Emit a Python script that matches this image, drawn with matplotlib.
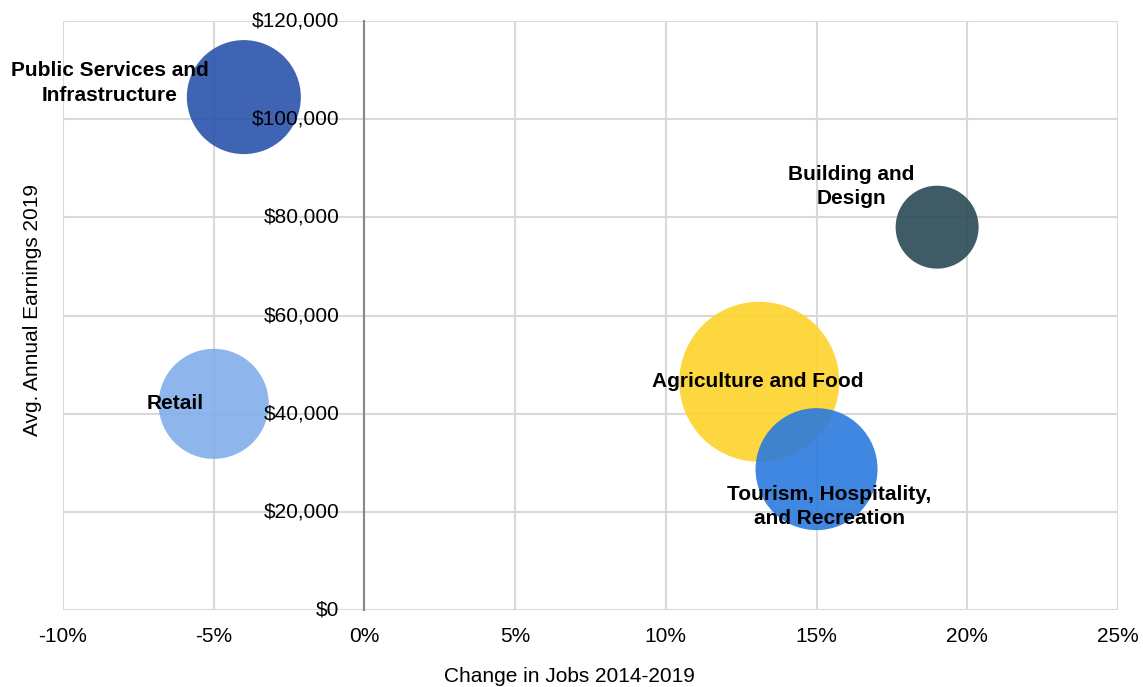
import matplotlib
matplotlib.use("Agg")
import matplotlib.pyplot as plt
import matplotlib.transforms as mtransforms
from matplotlib.ticker import FuncFormatter

plt.rcParams["font.family"] = ["Liberation Sans", "DejaVu Sans"]

# industry clusters
industries = [
    "Public Services and\nInfrastructure",
    "Retail",
    "Building and\nDesign",
    "Agriculture and Food",
    "Tourism, Hospitality,\nand Recreation",
]
job_change_pct = [-4.0, -5.0, 19.0, 13.1, 15.0]
avg_earnings = [104500, 42000, 78000, 46500, 28700]
bubble_size = [3250, 3030, 1720, 6400, 3720]  # relative size (area)
colors = ["#2b53ac", "#82aeea", "#2a4955", "#fdd32a", "#2b7ade"]

x_ticks = [-10, -5, 0, 5, 10, 15, 20, 25]
y_ticks = [0, 20000, 40000, 60000, 80000, 100000, 120000]

# label offsets from bubble centre, in pixels
label_offsets = [(-134, 14), (-39, 0), (-86, 41), (-2, 0), (13, -37)]

fig = plt.figure(figsize=(11.43, 6.87), dpi=100)
ax = fig.add_axes([0.0551, 0.1121, 0.9230, 0.8573])

ax.scatter(job_change_pct, avg_earnings, s=[b * 2.0736 for b in bubble_size],
           c=colors, alpha=0.9, edgecolors="none", zorder=3)

for name, x, y, off in zip(industries, job_change_pct, avg_earnings, label_offsets):
    ax.annotate(name, (x, y), xytext=off, textcoords="offset pixels",
                ha="center", va="center", fontsize=15, fontweight="bold",
                color="black", linespacing=1.35, zorder=5)

ax.set_xlim(-10, 25)
ax.set_ylim(0, 120000)
ax.set_xticks(x_ticks)
ax.set_yticks(y_ticks)
ax.xaxis.set_major_formatter(FuncFormatter(lambda v, p: f"{v:.0f}%"))
ax.set_yticklabels([])

# y tick labels sit next to the zero line, on top of the bubbles
offset = mtransforms.offset_copy(ax.transData, fig=fig, x=-25, y=0, units="dots")
for v in y_ticks:
    ax.text(0, v, f"${v:,.0f}", transform=offset, ha="right", va="center",
            fontsize=15, zorder=6, clip_on=False)

ax.grid(True, color="#d9d9d9", linewidth=1.5, zorder=0)
ax.set_axisbelow(True)
for side in ["top", "right", "bottom"]:
    ax.spines[side].set_visible(False)
ax.spines["left"].set_position(("data", 0))
ax.spines["left"].set_color("#888888")
ax.spines["left"].set_linewidth(1.5)
ax.spines["left"].set_zorder(1)

ax.tick_params(axis="x", length=0, pad=12, labelsize=15)
ax.tick_params(axis="y", length=0)

ax.set_xlabel("Change in Jobs 2014-2019", fontsize=15)
ax.set_ylabel("Avg. Annual Earnings 2019", fontsize=15)
ax.xaxis.set_label_coords(0.48, -0.097)
ax.yaxis.set_label_coords(-0.02, 0.51)

fig.savefig("out.png", dpi=100)
